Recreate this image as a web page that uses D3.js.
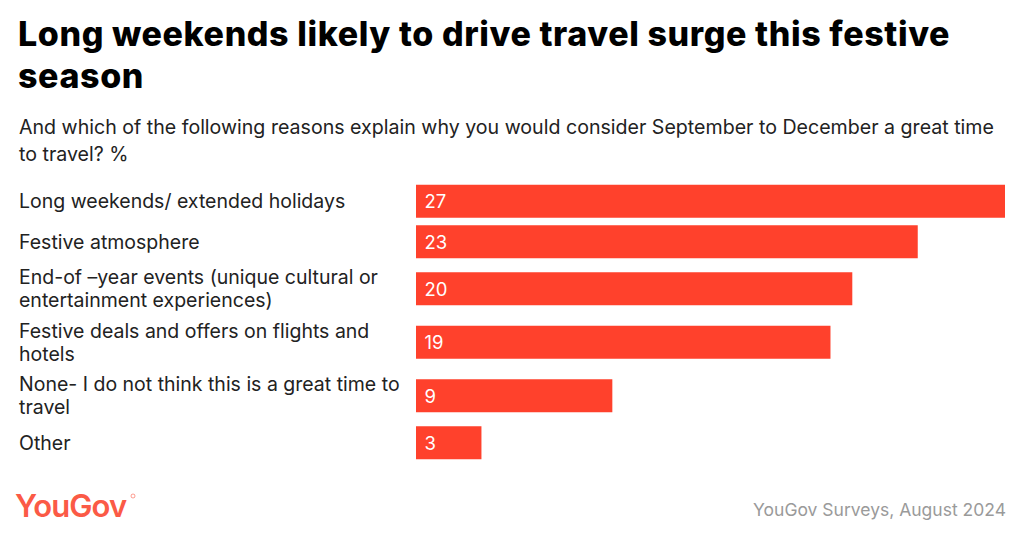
<!DOCTYPE html>
<html>
<head>
<meta charset="utf-8">
<script src="https://cdn.jsdelivr.net/npm/d3@7"></script>
<style>
  html, body { margin: 0; padding: 0; background: #fff; }
  svg { display: block; }
</style>
</head>
<body>
<svg id="chart" width="1024" height="540"></svg>
<script>
const titleLines = ["Long weekends likely to drive travel surge this festive", "season"];
const subtitleLines = ["And which of the following reasons explain why you would consider September to December a great time", "to travel? %"];
const categories = [
  "Long weekends/ extended holidays",
  "Festive atmosphere",
  "End-of \u2013year events (unique cultural or entertainment experiences)",
  "Festive deals and offers on flights and hotels",
  "None- I do not think this is a great time to travel",
  "Other"
];
const values = [27, 23, 20, 19, 9, 3];
const sourceText = "YouGov Surveys, August 2024";
const logoText = "YouGov";

const svg = d3.select("#chart");
const W = 1024, H = 540;
svg.append("rect").attr("width", W).attr("height", H).attr("fill", "#fff");

const sans = "Inter, 'Open Sans', sans-serif";
const barColor = "#ff412c";

// Title
const title = svg.append("text")
  .attr("font-family", sans).attr("font-weight", 800)
  .attr("font-size", 34).attr("fill", "#000").attr("letter-spacing", 0.6);
titleLines.forEach((t, i) => title.append("tspan").attr("x", 18).attr("y", 46 + i * 42).text(t));

// Subtitle
const sub = svg.append("text")
  .attr("font-family", sans).attr("font-weight", 400)
  .attr("font-size", 19.6).attr("fill", "#222");
subtitleLines.forEach((t, i) => sub.append("tspan").attr("x", 19).attr("y", 134 + i * 27).text(t));

// Layout of rows
const labelFont = 19.5, lineH = 23, barH = 33, pad = 7.5, labelMax = 392;
const measurer = svg.append("text").attr("font-family", sans).attr("font-size", labelFont).attr("visibility", "hidden");
function wrap(str) {
  const words = str.split(" ");
  const lines = [];
  let cur = "";
  words.forEach(w => {
    const test = cur ? cur + " " + w : w;
    measurer.text(test);
    if (measurer.node().getComputedTextLength() > labelMax && cur) {
      lines.push(cur); cur = w;
    } else cur = test;
  });
  if (cur) lines.push(cur);
  return lines;
}
const rows = categories.map((c, i) => ({ label: c, value: values[i], lines: wrap(c) }));
measurer.remove();
let yCursor = 181;
rows.forEach(r => {
  r.h = Math.max(barH, r.lines.length * lineH) + pad;
  r.cy = yCursor + r.h / 2;
  yCursor += r.h;
});

const x = d3.scaleLinear().domain([0, d3.max(values)]).range([416, 1005]);

const g = svg.append("g");
const row = g.selectAll("g.row").data(rows).join("g").attr("class", "row");

row.append("rect")
  .attr("x", x(0))
  .attr("y", d => d.cy - barH / 2)
  .attr("width", d => x(d.value) - x(0))
  .attr("height", barH)
  .attr("fill", barColor);

row.append("text")
  .attr("x", x(0) + 8.5)
  .attr("y", d => d.cy + 7)
  .attr("font-family", sans).attr("font-size", 18.5)
  .attr("fill", "#fff")
  .text(d => d.value);

row.each(function(d) {
  const t = d3.select(this).append("text")
    .attr("font-family", sans).attr("font-size", labelFont).attr("fill", "#222");
  const n = d.lines.length;
  d.lines.forEach((ln, i) => {
    t.append("tspan").attr("x", 19)
      .attr("y", d.cy + 7 + (i - (n - 1) / 2) * lineH)
      .text(ln);
  });
});

// Footer
svg.append("text")
  .attr("x", 15).attr("y", 517)
  .attr("font-family", sans).attr("font-weight", 600)
  .attr("font-size", 31).attr("letter-spacing", -0.9)
  .attr("fill", "#fb5a46")
  .text(logoText);
svg.append("circle").attr("cx", 133).attr("cy", 496).attr("r", 2).attr("fill", "none").attr("stroke", "#fb5a46").attr("stroke-width", 0.6);

svg.append("text")
  .attr("x", 1006).attr("y", 516)
  .attr("text-anchor", "end")
  .attr("font-family", sans).attr("font-size", 17.5)
  .attr("fill", "#9a9a9a")
  .text(sourceText);
</script>
</body>
</html>
